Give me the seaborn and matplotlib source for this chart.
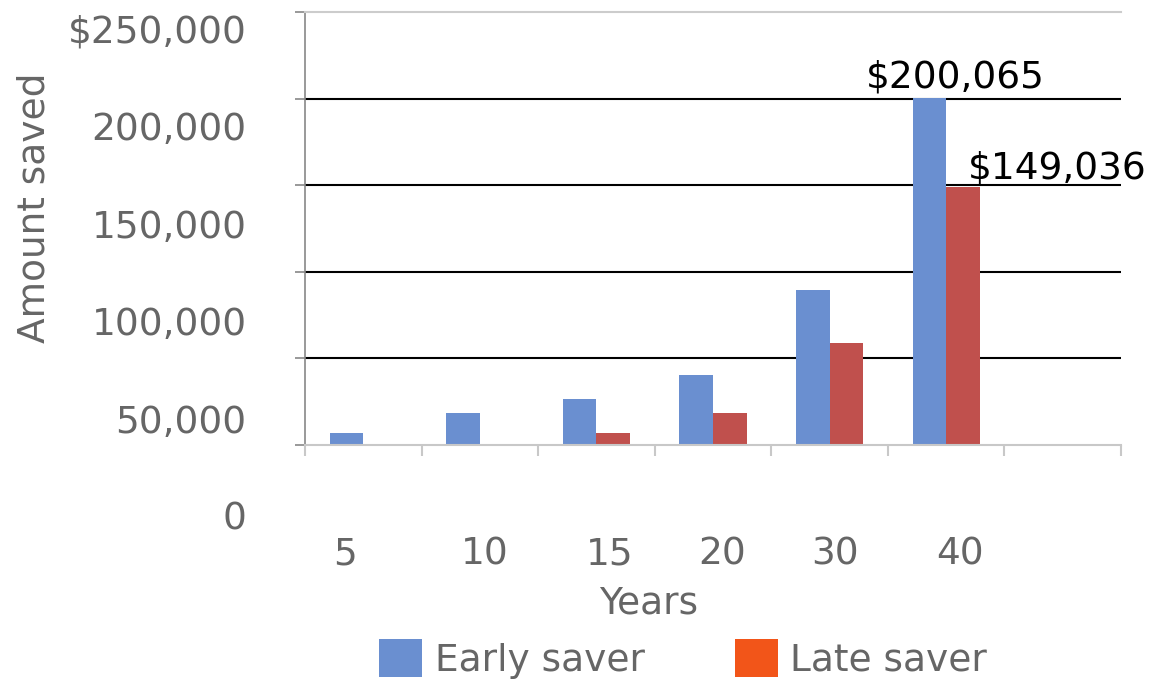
import matplotlib
matplotlib.use("Agg")
import matplotlib.pyplot as plt
from matplotlib.patches import Patch
from matplotlib.ticker import FuncFormatter
import pandas as pd
import seaborn as sns

# Savings at each horizon (years), early vs. late starter
years = ["5", "10", "15", "20", "30", "40"]
early_saver = [6750, 18300, 26350, 40200, 89600, 200065]
late_saver = [0, 0, 6750, 18300, 58650, 149036]
series_names = ["Early saver", "Late saver"]
y_ticks = [0, 50000, 100000, 150000, 200000, 250000]

# Horizontal positions of the year labels (category units)
year_label_pos = [-0.157, 1.044, 2.116, 3.077, 4.047, 5.119]

bar_colors = {"Early saver": "#6A8FD0", "Late saver": "#C0504D"}
legend_colors = {"Early saver": "#6A8FD0", "Late saver": "#F25519"}
TEXT = "#666666"
FS = 27

df = pd.DataFrame({
    "Years": years * 2,
    "Saver": [series_names[0]] * len(years) + [series_names[1]] * len(years),
    "Amount": early_saver + late_saver,
})

sns.set_theme(style="white")
plt.rcParams["font.family"] = ["DejaVu Sans"]

W, H = 1149, 682
fig = plt.figure(figsize=(W / 100, H / 100), dpi=100)

left, right, top, bottom = 305, 1121, 12, 445
ax = fig.add_axes([left / W, (H - bottom) / H, (right - left) / W, (bottom - top) / H])

sns.barplot(data=df, x="Years", y="Amount", hue="Saver", order=years,
            hue_order=series_names, palette=bar_colors, width=0.575, gap=0,
            linewidth=0, saturation=1, legend=False, ax=ax, zorder=2)

ax.set_xlim(-0.5, len(years) + 0.5)
ax.set_ylim(0, 250000)

# Horizontal reference lines at the inner tick values
ax.set_yticks(y_ticks)
ax.set_yticklabels([])
ax.set_axisbelow(True)
ax.yaxis.grid(True, color="black", linewidth=1.5)
gl = ax.yaxis.get_gridlines()
gl[0].set_visible(False)
gl[-1].set_visible(False)
ax.tick_params(axis="y", which="major", direction="out", length=7.5, width=1.2,
               color="#888888", left=True)

# Category boundaries as ticks, year labels as minor ticks
ax.set_xticks([i - 0.5 for i in range(len(years) + 2)])
ax.set_xticklabels([])
ax.set_xticks(year_label_pos, years, minor=True)
ax.tick_params(axis="x", which="major", direction="out", length=8, width=1.5,
               color="#C8C8C8", bottom=True)
ax.tick_params(axis="x", which="minor", length=0, pad=66, labelsize=FS,
               labelcolor=TEXT)

ax.spines["right"].set_visible(False)
ax.spines["top"].set_visible(True)
ax.spines["top"].set_color("#CCCCCC")
ax.spines["top"].set_linewidth(1.5)
ax.spines["bottom"].set_visible(True)
ax.spines["bottom"].set_color("#C8C8C8")
ax.spines["bottom"].set_linewidth(1.5)
ax.spines["left"].set_visible(True)
ax.spines["left"].set_color("#888888")
ax.spines["left"].set_linewidth(1.2)

ax.set_xlabel("Years", fontsize=FS, color=TEXT)
ax.xaxis.set_label_coords((649 - left) / (right - left), (bottom - 585) / (bottom - top))
ax.set_ylabel("Amount saved", fontsize=FS, color=TEXT)
ax.yaxis.set_label_coords((53 - left) / (right - left), (bottom - 208) / (bottom - top))

# Value axis labels on their own scale
lab_top, lab_bottom = 29, 516
lab = fig.add_axes([left / W, (H - lab_bottom) / H, (right - left) / W,
                    (lab_bottom - lab_top) / H])
lab.set_ylim(0, 250000)
lab.set_yticks(y_ticks)
lab.yaxis.set_major_formatter(FuncFormatter(
    lambda v, _: ("$" if v == max(y_ticks) else "") + f"{int(v):,}"))
lab.tick_params(axis="y", length=0, pad=42, labelsize=FS, labelcolor=TEXT)
lab.set_xticks([])
lab.patch.set_visible(False)
for s in lab.spines.values():
    s.set_visible(False)

# Value labels on the 40-year bars
early_bar = ax.containers[0][len(years) - 1]
late_bar = ax.containers[1][len(years) - 1]
ax.annotate(f"${early_saver[-1]:,}",
            xy=(early_bar.get_x() + early_bar.get_width() / 2, early_saver[-1]),
            xytext=(19, 8), textcoords="offset points", ha="center",
            va="baseline", fontsize=FS, color="black")
ax.annotate(f"${late_saver[-1]:,}",
            xy=(late_bar.get_x() + late_bar.get_width() / 2, late_saver[-1]),
            xytext=(68, 6), textcoords="offset points", ha="center",
            va="baseline", fontsize=FS, color="black", annotation_clip=False)

handles = [Patch(facecolor=legend_colors[n], edgecolor="none") for n in series_names]
fig.legend(handles, series_names, loc="center", bbox_to_anchor=(683 / W, (H - 659) / H),
           ncol=2, frameon=False, fontsize=FS, labelcolor=TEXT, handlelength=1.15,
           handleheight=1.15, handletextpad=0.33, columnspacing=2.4)

fig.savefig("out.png", dpi=100)
